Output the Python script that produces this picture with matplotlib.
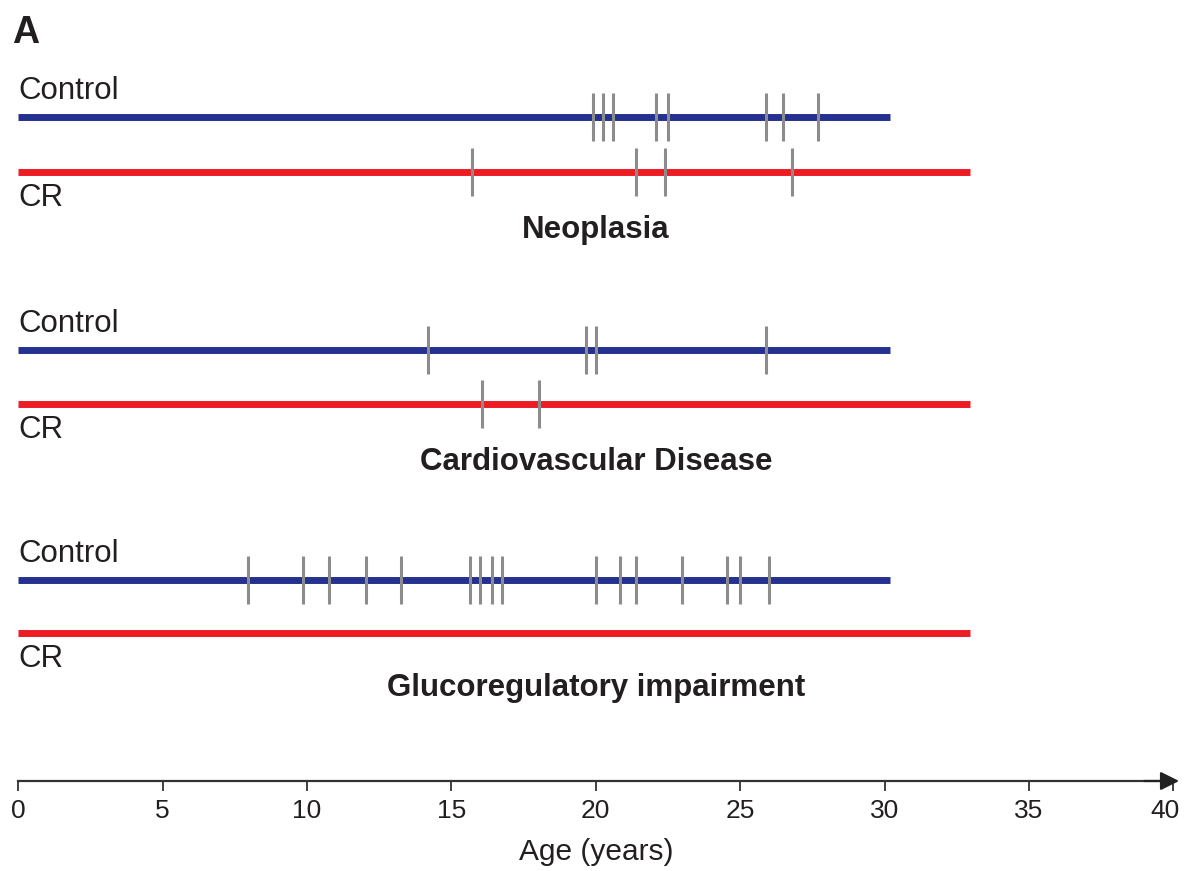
import matplotlib.pyplot as plt
import matplotlib.transforms as mtransforms

# event ages (years)
neo_control = [19.9, 20.25, 20.6, 22.1, 22.5, 25.9, 26.5, 27.7]
neo_cr = [15.7, 21.4, 22.4, 26.8]
cvd_control = [14.2, 19.65, 20.0, 25.9]
cvd_cr = [16.05, 18.05]
glu_control = [7.95, 9.85, 10.75, 12.05, 13.25, 15.65, 16.0, 16.4, 16.75,
               20.0, 20.85, 21.4, 23.0, 24.55, 25.0, 26.0]
glu_cr = []

panels = ["Neoplasia", "Cardiovascular Disease", "Glucoregulatory impairment"]
control_end = 30.2
cr_end = 32.95
xticks = [0, 5, 10, 15, 20, 25, 30, 35, 40]

BLUE = "#25318f"
RED = "#ee1d25"
GRAY = "#8c8c8c"
TXT = "#231f20"

plt.rcParams['font.family'] = ['Liberation Sans', 'DejaVu Sans']

fig = plt.figure(figsize=(11.86, 8.71), dpi=100)
ax = fig.add_axes([0, 0, 1, 1])
x0 = 18.3
px = (1173.3 - x0) / 40.0
ax.set_xlim(-x0 / px, (1186 - x0) / px)
ax.set_ylim(871, 0)  # y in pixel rows

rows = [
    (neo_control, neo_cr, 117, 172, 230),
    (cvd_control, cvd_cr, 350, 404, 462),
    (glu_control, glu_cr, 580, 633, 688),
]

for (ctrl, cr, yc, yr, yt), name in zip(rows, panels):
    ax.plot([0, control_end], [yc, yc], color=BLUE, lw=5, solid_capstyle='butt', zorder=2)
    ax.plot([0, cr_end], [yr, yr], color=RED, lw=5, solid_capstyle='butt', zorder=2)
    ax.vlines(ctrl, yc - 24, yc + 24, color=GRAY, lw=2.2, zorder=3)
    if cr:
        ax.vlines(cr, yr - 24, yr + 24, color=GRAY, lw=2.2, zorder=3)
    ax.text(0, yc - 11, "Control", fontsize=22.5, color=TXT, ha='left', va='bottom')
    ax.text(0, yr + 11, "CR", fontsize=22.5, color=TXT, ha='left', va='top')
    ax.text(20, yt, name, fontsize=22.5, fontweight='bold', color=TXT, ha='center', va='center')

# age axis
for s in ['top', 'left', 'right']:
    ax.spines[s].set_visible(False)
ax.spines['bottom'].set_position(('data', 781))
ax.spines['bottom'].set_bounds(0, 40)
ax.spines['bottom'].set_linewidth(1.6)
ax.spines['bottom'].set_color('#333333')
ax.set_yticks([])
ax.set_xticks(xticks)
ax.set_xticklabels([str(t) for t in xticks])
ax.tick_params(axis='x', direction='out', length=7, width=1.3, color='#333333',
               labelsize=19, labelcolor=TXT, pad=6)
# keep the last label inside the canvas
last = ax.get_xticklabels()[-1]
last.set_transform(last.get_transform() +
                   mtransforms.ScaledTranslation(-6 / 72, 0, fig.dpi_scale_trans))
ax.annotate("", xy=(40.2, 781), xytext=(39.0, 781),
            arrowprops=dict(arrowstyle='-|>', color='#222222', lw=1.6,
                            mutation_scale=28, shrinkA=0, shrinkB=0))
ax.text(20, 852, "Age (years)", fontsize=21.5, color=TXT, ha='center', va='center')

fig.text(12 / 1186, 1 - 33 / 871, "A", fontsize=27, fontweight='bold', color=TXT,
         ha='left', va='center')

fig.savefig("out.png", dpi=100)
